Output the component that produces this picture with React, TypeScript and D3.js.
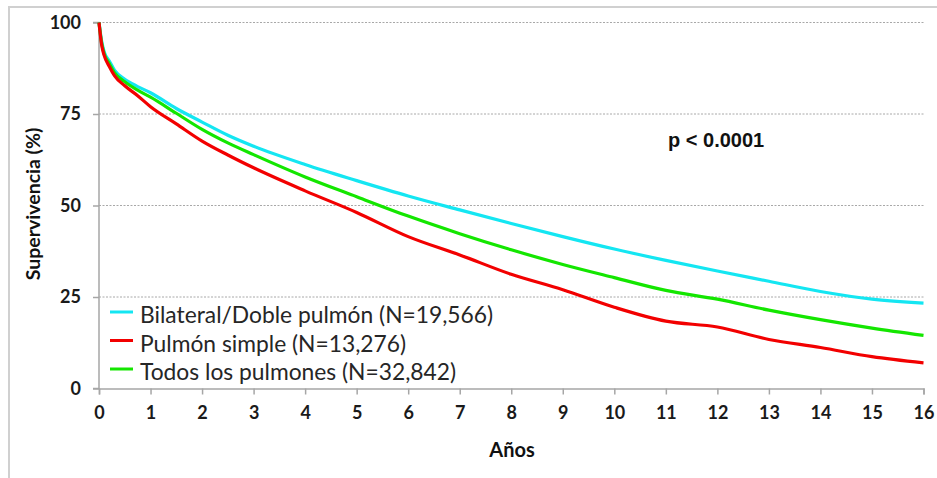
import { useEffect, useRef } from 'react';
import * as d3 from 'd3';

// años de seguimiento
const years = [0, 0.05, 0.1, 0.2, 0.3, 0.5, 0.75, 1, 1.5, 2, 2.5, 3, 4, 5, 6, 7, 8, 9, 10, 11, 12, 13, 14, 15, 16];

const bilateral = [100, 95, 92, 89.5, 87, 84.5, 82.5, 80.8, 76.5, 72.8, 69.2, 66.2, 61.2, 56.8, 52.6, 48.8, 45.1, 41.5, 38.1, 35.0, 32.1, 29.3, 26.5, 24.4, 23.3];
const simple = [100, 94, 91, 88, 85.5, 82.7, 80, 77, 72.3, 67.6, 63.8, 60.3, 54.0, 48.1, 41.5, 36.5, 31.2, 27.0, 22.2, 18.4, 16.8, 13.4, 11.2, 8.7, 7.0];
const todos = [100, 94.5, 91.5, 88.8, 86.3, 83.8, 81.5, 79.6, 75.2, 70.8, 67.1, 63.9, 57.8, 52.4, 47.1, 42.3, 37.9, 33.9, 30.3, 26.8, 24.4, 21.4, 18.8, 16.5, 14.5];

const seriesNames = ['Bilateral/Doble pulmón (N=19,566)', 'Pulmón simple (N=13,276)', 'Todos los pulmones (N=32,842)'];
const seriesColors = ['#14e6f2', '#f20000', '#14e600'];

const yTicks = [0, 25, 50, 75, 100];
const xTicks = d3.range(0, 17);

const App = () => {
  const ref = useRef<SVGSVGElement>(null);

  useEffect(() => {
    const width = 937;
    const height = 478;
    const svg = d3.select(ref.current).attr('width', width).attr('height', height);
    svg.selectAll('*').remove();

    const x = d3.scaleLinear().domain([0, 16]).range([99, 923.5]);
    const y = d3.scaleLinear().domain([0, 100]).range([388.5, 22.5]);

    // marco
    svg.append('path')
      .attr('d', 'M9,478 L9,7 L937,7')
      .attr('fill', 'none')
      .attr('stroke', '#d0d0d0')
      .attr('stroke-width', 2);

    // rejilla
    svg.append('g')
      .selectAll('line')
      .data(yTicks.filter((d) => d > 0))
      .join('line')
      .attr('x1', x(0))
      .attr('x2', x(16))
      .attr('y1', (d) => y(d))
      .attr('y2', (d) => y(d))
      .attr('stroke', '#a8a8a8')
      .attr('stroke-width', 1)
      .attr('stroke-dasharray', '2,1.5');

    const yAxis = svg.append('g')
      .attr('transform', `translate(${x(0)},0)`)
      .call(d3.axisLeft(y).tickValues(yTicks).tickSize(6).tickPadding(12));
    const xAxis = svg.append('g')
      .attr('transform', `translate(0,${y(0)})`)
      .call(d3.axisBottom(x).tickValues(xTicks).tickSize(6).tickPadding(12).tickFormat(d3.format('d')));

    [yAxis, xAxis].forEach((ax) => {
      ax.select('.domain').attr('stroke', '#a6a6a6').attr('stroke-width', 1.5);
      ax.selectAll('.tick line').attr('stroke', '#a6a6a6').attr('stroke-width', 1.5);
      ax.selectAll('.tick text')
        .attr('fill', '#1a1a1a')
        .attr('font-family', 'Lato, sans-serif')
        .attr('font-weight', 'bold')
        .attr('font-size', 18);
    });
    yAxis.select('.domain').attr('d', `M-6,${y(0)}H0V${y(100)}H-6`);

    const data = [bilateral, simple, todos];
    const line = d3.line<number>()
      .x((_, i) => x(years[i]))
      .y((d) => y(d))
      .curve(d3.curveMonotoneX);

    // orden de dibujo: cian, verde, rojo
    [0, 2, 1].forEach((k) => {
      svg.append('path')
        .datum(data[k])
        .attr('d', line)
        .attr('fill', 'none')
        .attr('stroke', seriesColors[k])
        .attr('stroke-width', 3.2)
        .attr('stroke-linejoin', 'round');
    });

    // leyenda
    const legend = svg.append('g').attr('transform', 'translate(110,312)');
    seriesNames.forEach((name, i) => {
      legend.append('line')
        .attr('x1', 0)
        .attr('x2', 23)
        .attr('y1', i * 28.5)
        .attr('y2', i * 28.5)
        .attr('stroke', seriesColors[i])
        .attr('stroke-width', 3);
      legend.append('text')
        .attr('x', 30)
        .attr('y', i * 28.5 + 11)
        .attr('fill', '#262626')
        .attr('font-family', 'Lato, sans-serif')
        .attr('font-size', 22.8)
        .text(name);
    });

    svg.append('text')
      .attr('x', 668)
      .attr('y', 147)
      .attr('font-family', 'Liberation Sans, Arial, sans-serif')
      .attr('font-weight', 'bold')
      .attr('font-size', 20)
      .attr('fill', '#111')
      .text('p < 0.0001');

    svg.append('text')
      .attr('text-anchor', 'middle')
      .attr('x', 512)
      .attr('y', 457)
      .attr('font-family', 'Lato, sans-serif')
      .attr('font-weight', 'bold')
      .attr('font-size', 20)
      .attr('fill', '#111')
      .text('Años');

    svg.append('text')
      .attr('text-anchor', 'middle')
      .attr('transform', 'translate(40,204) rotate(-90)')
      .attr('font-family', 'Lato, sans-serif')
      .attr('font-weight', 'bold')
      .attr('font-size', 19.5)
      .attr('fill', '#111')
      .text('Supervivencia (%)');
  }, []);

  return (
    <svg ref={ref} style={{ position: 'absolute', left: 0, top: 0, background: '#fff' }}></svg>
  );
};

export default App;
